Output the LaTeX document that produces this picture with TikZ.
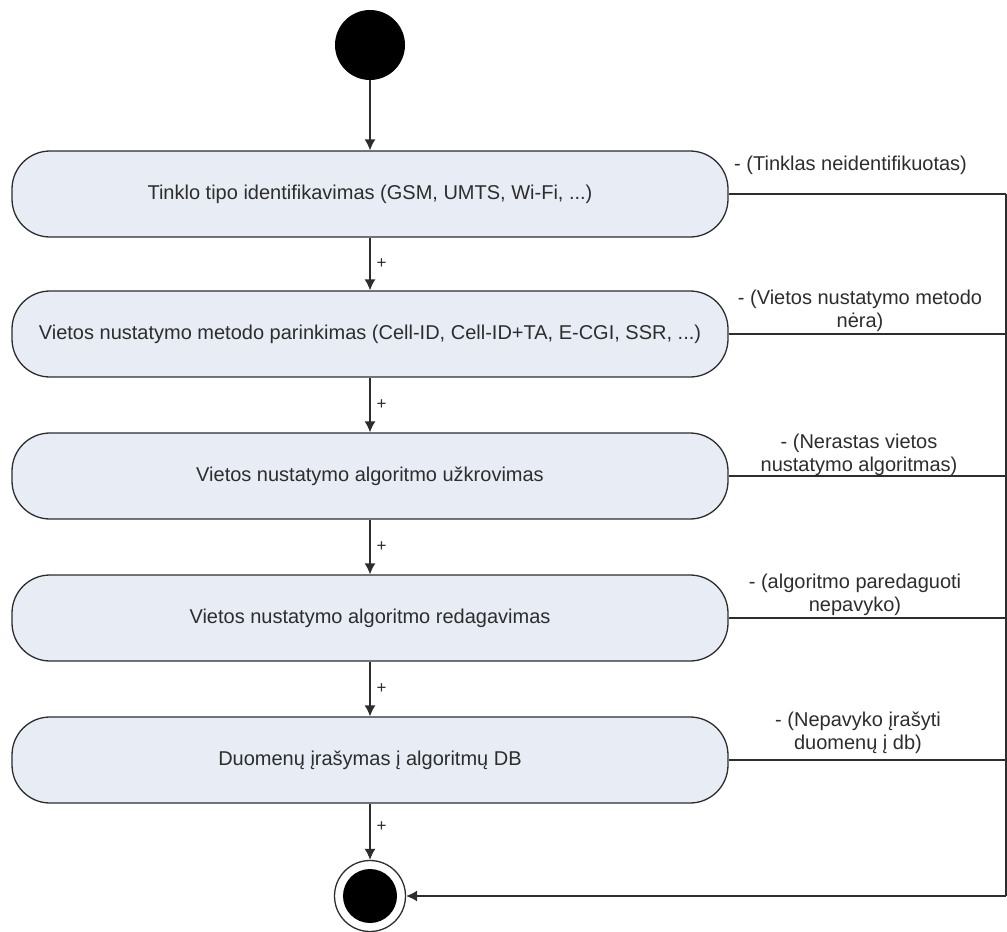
\documentclass[tikz,border=0pt]{standalone}
\usepackage{fontspec}
\setmainfont{Liberation Sans}
\usetikzlibrary{arrows.meta}
\definecolor{boxfill}{RGB}{232,236,245}
\definecolor{ink}{RGB}{45,45,45}
\begin{document}
\begin{tikzpicture}[x=1pt,y=-1pt,
 act/.style={draw=ink, line width=1.3pt, fill=boxfill, rounded corners=38pt, minimum width=716pt, minimum height=86pt, inner sep=0pt, font=\fontsize{20}{23}\selectfont, text=ink},
 flow/.style={draw=ink, line width=1.3pt, -{Latex[length=11pt,width=11pt]}},
 err/.style={draw=ink, line width=1.3pt},
 lbl/.style={font=\fontsize{20}{23}\selectfont, text=ink, align=center, inner sep=1pt},
 plus/.style={font=\fontsize{17}{19}\selectfont, text=ink, right, inner sep=6pt}]
\useasboundingbox (0,0) rectangle (1007,932);
\node[circle, fill=black, minimum size=70pt, inner sep=0pt] (s) at (370,45) {};
\node[act] (b1) at (370,194) {Tinklo tipo identifikavimas (GSM, UMTS, Wi-Fi, ...)};
\node[act] (b2) at (370,334) {Vietos nustatymo metodo parinkimas (Cell-ID, Cell-ID+TA, E-CGI, SSR, ...)};
\node[act] (b3) at (370,476) {Vietos nustatymo algoritmo užkrovimas};
\node[act] (b4) at (370,618) {Vietos nustatymo algoritmo redagavimas};
\node[act] (b5) at (370,760) {Duomenų įrašymas į algoritmų DB};
\node[circle, draw=ink, line width=1.3pt, fill=white, minimum size=71pt, inner sep=0pt] (e) at (370,896) {};
\node[circle, fill=black, minimum size=54pt, inner sep=0pt] (ei) at (e) {};
\coordinate (r1) at (1006,194);
\coordinate (r2) at (1006,334);
\coordinate (r3) at (1006,476);
\coordinate (r4) at (1006,618);
\coordinate (r5) at (1006,760);
\coordinate (r6) at (1006,896);
\draw[flow] (s) -- (b1);
\draw[flow] (b1) -- node[plus]{+} (b2);
\draw[flow] (b2) -- node[plus]{+} (b3);
\draw[flow] (b3) -- node[plus]{+} (b4);
\draw[flow] (b4) -- node[plus]{+} (b5);
\draw[flow] (b5) -- node[plus, pos=0.4]{+} (e);
\draw[err] (b1.east) -- (r1);
\draw[err] (b2.east) -- (r2);
\draw[err] (b3.east) -- (r3);
\draw[err] (b4.east) -- (r4);
\draw[err] (b5.east) -- (r5);
\draw[err] (r1) -- (r6);
\draw[flow] (r6) -- (e);
\node[lbl, anchor=west] (l1) at (733,165) {- (Tinklas neidentifikuotas)};
\node[lbl] (l2) at (860,311) {- (Vietos nustatymo metodo\\nėra)};
\node[lbl] (l3) at (859,455) {- (Nerastas vietos\\nustatymo algoritmas)};
\node[lbl] (l4) at (855,595) {- (algoritmo paredaguoti\\nepavyko)};
\node[lbl] (l5) at (858,733) {- (Nepavyko įrašyti\\duomenų į db)};
\end{tikzpicture}
\end{document}
